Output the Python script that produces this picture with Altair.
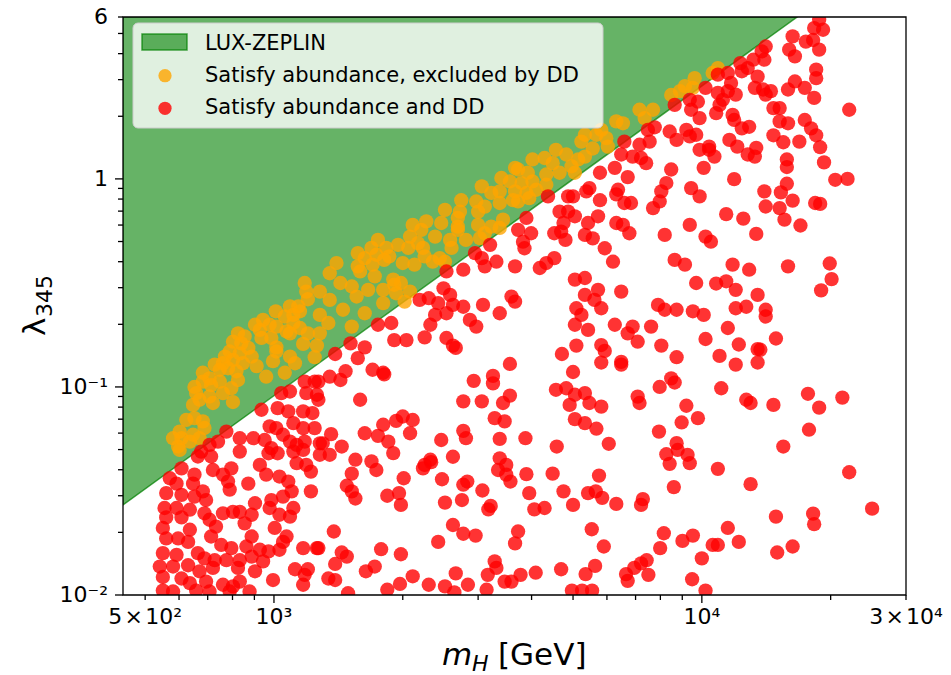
import altair as alt
import pandas as pd

# ------------------------------------------------------------------ data
# LUX-ZEPLIN excluded region: lower edge (straight line in log-log), filled up to the top of the plot
LZ_MASS = [443.8, 16700.0]
LZ_LAMBDA = [0.0271, 6.0]
LAMBDA_TOP = 6.0

# Satisfy abundance, excluded by DD  (m_H [GeV], lambda_345)
ORANGE_LOW = [
    (1180, 0.316), (1190, 0.287), (1280, 0.287), (1200, 0.264), (1090, 0.244), (1140, 0.244), (1010, 0.231), (1150, 0.231), (1060, 0.218), (1110, 0.222),
    (1280, 0.222), (943, 0.210), (903, 0.199), (977, 0.199), (1110, 0.203), (1013, 0.195), (1070, 0.185), (1150, 0.192), (1200, 0.181), (927, 0.188),
    (1280, 0.181), (824, 0.181), (854, 0.175), (935, 0.172), (986, 0.172), (1090, 0.181), (802, 0.165), (839, 0.162), (1170, 0.161), (1260, 0.158),
    (1013, 0.155), (871, 0.154), (788, 0.148), (1013, 0.148), (832, 0.145), (768, 0.140), (887, 0.140), (1090, 0.140), (1245, 0.139), (802, 0.135),
    (995, 0.133), (1120, 0.130), (760, 0.130), (846, 0.130), (727, 0.128), (911, 0.126), (781, 0.123), (747, 0.121), (817, 0.119), (1060, 0.117),
    (682, 0.117), (959, 0.112), (707, 0.110), (824, 0.108), (682, 0.106), (747, 0.106), (713, 0.102), (652, 0.100), (795, 0.0986), (658, 0.0934),
    (760, 0.0934), (707, 0.090), (647, 0.082), (670, 0.0868), (720, 0.0837), (802, 0.0846), (652, 0.0708), (624, 0.0695), (682, 0.0683), (688, 0.0635),
    (602, 0.061), (608, 0.0567), (581, 0.0567), (647, 0.0589), (597, 0.0517), (636, 0.0546), (670, 0.0567), (602, 0.0498),
]
ORANGE_MID = [
    (3660, 1.13), (3400, 1.01), (3560, 0.972), (3060, 0.920), (3220, 0.856), (3370, 0.871), (3620, 0.790), (2740, 0.790), (2970, 0.779), (3370, 0.766),
    (3110, 0.736), (2510, 0.710), (2720, 0.696), (3000, 0.696), (2460, 0.614), (2690, 0.650), (2690, 0.590), (3000, 0.601), (3220, 0.590), (3430, 0.637),
    (3370, 0.581), (2270, 0.625), (2110, 0.601), (2210, 0.569), (2080, 0.528), (2380, 0.528), (2690, 0.569), (2810, 0.509), (3110, 0.548), (3030, 0.519),
    (2580, 0.509), (1750, 0.509), (1950, 0.482), (2170, 0.491), (1690, 0.466), (1830, 0.466), (2060, 0.466), (2230, 0.466), (2600, 0.466), (1570, 0.440),
    (1735, 0.432), (1860, 0.424), (2250, 0.424), (2440, 0.416), (1630, 0.416), (1810, 0.408), (2000, 0.394), (2130, 0.387), (2350, 0.400), (2510, 0.400),
    (1400, 0.394), (1570, 0.380), (1700, 0.387), (1350, 0.352), (1590, 0.359), (1720, 0.340), (1900, 0.328), (1430, 0.316), (1520, 0.304), (1660, 0.293),
    (1800, 0.293), (1910, 0.310), (1980, 0.316), (1350, 0.262), (1560, 0.272), (1930, 0.282), (2080, 0.287), (1800, 0.253), (2020, 0.257), (1450, 0.235),
    (1630, 0.226), (1340, 0.203), (1520, 0.195),
]
ORANGE_HIGH = [
    (9620, 3.05), (9130, 2.79), (8480, 2.53), (8890, 2.64), (9530, 2.74), (10600, 3.23), (7150, 2.15), (7690, 2.15), (7350, 1.96), (6310, 1.89),
    (6540, 1.85), (5820, 1.72), (5330, 1.63), (5670, 1.63), (5980, 1.57), (5230, 1.51), (5560, 1.40), (6030, 1.43), (4560, 1.38), (4820, 1.31),
    (5140, 1.24), (5330, 1.28), (4020, 1.24), (4290, 1.26), (4480, 1.19), (4960, 1.15), (3720, 1.11), (3920, 1.07), (4330, 1.05), (4650, 1.07),
    (5050, 1.07), (3790, 0.955), (4020, 0.972), (4330, 0.937), (3660, 0.871), (3890, 0.856), (4100, 0.887), (3720, 0.779), (3950, 0.808), (10900, 3.41),
]

# Satisfy abundance and DD  (m_H [GeV], lambda_345)
RED_LOW = [
    (1040, 0.0934), (1090, 0.0951), (1180, 0.106), (1245, 0.106), (1190, 0.0934), (1260, 0.0917), (935, 0.0777), (1020, 0.0791), (1080, 0.0763), (1170, 0.0763),
    (1230, 0.0749), (1110, 0.0670), (977, 0.0646), (1013, 0.0634), (1170, 0.0634), (1245, 0.0634), (774, 0.0610), (832, 0.0567), (895, 0.0567), (951, 0.0556),
    (1050, 0.0589), (1090, 0.0546), (1180, 0.0546), (1280, 0.0536), (740, 0.0546), (707, 0.0527), (676, 0.0489), (986, 0.0508), (1130, 0.0527), (832, 0.0489),
    (971, 0.0480), (1020, 0.0480), (1110, 0.0489), (1170, 0.0498), (664, 0.0463), (713, 0.0463), (1280, 0.0472), (1130, 0.0430), (1190, 0.0422), (927, 0.0422),
    (959, 0.0379), (1220, 0.0392), (608, 0.0406), (652, 0.0379), (720, 0.0399), (795, 0.0406), (760, 0.0379), (1030, 0.0371), (1080, 0.0351), (571, 0.0364),
    (592, 0.0343), (647, 0.0343), (781, 0.0351), (788, 0.0321), (871, 0.0343), (682, 0.0315), (1100, 0.0315), (1220, 0.0315), (560, 0.0309), (608, 0.0303),
    (652, 0.0297), (694, 0.0286), (986, 0.0286), (1050, 0.0297), (903, 0.0276), (977, 0.0262), (1110, 0.0262), (555, 0.0262), (592, 0.0262), (636, 0.0257),
    (560, 0.0236), (608, 0.0236), (688, 0.0247), (760, 0.0247), (802, 0.0251), (832, 0.0251), (887, 0.0243), (1030, 0.0243), (1090, 0.0238), (707, 0.0230),
    (854, 0.0221), (732, 0.0213), (1004, 0.0210), (550, 0.0210), (636, 0.0206), (560, 0.0187), (597, 0.0187), (630, 0.0180), (713, 0.0191), (887, 0.0191),
    (1070, 0.0191), (1050, 0.0180), (753, 0.0174), (795, 0.0168), (862, 0.0171), (927, 0.0165), (971, 0.0162), (1030, 0.0165), (1170, 0.0168), (1260, 0.0168),
    (550, 0.0159), (592, 0.0156), (664, 0.0159), (688, 0.0150), (727, 0.0147), (774, 0.0147), (832, 0.0147), (887, 0.0153), (943, 0.0145), (541, 0.0137),
    (581, 0.0137), (630, 0.0139), (670, 0.0130), (720, 0.0135), (824, 0.0135), (903, 0.0130), (1120, 0.0133), (1180, 0.0125), (1200, 0.0133), (550, 0.0122),
    (608, 0.0120), (636, 0.0114), (694, 0.0116), (760, 0.0112), (802, 0.0110), (832, 0.0116), (995, 0.0118), (1170, 0.0112), (550, 0.0105), (581, 0.0104),
    (658, 0.0105), (707, 0.0104), (877, 0.0104), (788, 0.0104),
]
RED_MID = [
    (3200, 0.482), (2950, 0.440), (3060, 0.416), (3310, 0.400), (3110, 0.380), (3660, 0.380), (3720, 0.569), (2530, 0.359), (2770, 0.366), (2490, 0.298),
    (2580, 0.277), (2190, 0.262), (2300, 0.267), (2420, 0.253), (2620, 0.248), (2770, 0.243), (3080, 0.248), (3590, 0.272), (3660, 0.257), (2380, 0.222),
    (2530, 0.226), (2870, 0.210), (3370, 0.226), (1750, 0.199), (1880, 0.203), (2320, 0.199), (2970, 0.195), (1910, 0.168), (2040, 0.168), (2250, 0.173),
    (2530, 0.172), (2620, 0.158), (2660, 0.154), (1510, 0.162), (1630, 0.155), (1390, 0.144), (1570, 0.1375), (3560, 0.129), (1700, 0.121), (1800, 0.117),
    (1810, 0.115), (1470, 0.119), (1350, 0.112), (1430, 0.108), (1270, 0.106), (2930, 0.107), (3250, 0.113), (3250, 0.104), (1590, 0.0868), (2770, 0.0853),
    (3060, 0.0853), (3430, 0.0837), (3560, 0.0909), (1270, 0.0868), (1930, 0.0687), (2000, 0.0721), (2110, 0.0694), (1800, 0.0658), (3280, 0.0708), (3460, 0.0683),
    (1630, 0.0599), (1750, 0.0582), (2080, 0.0599), (2770, 0.0615), (2810, 0.0567), (1360, 0.0593), (3370, 0.0563), (1850, 0.0546), (1900, 0.0481), (1440, 0.0517),
    (1300, 0.0536), (2460, 0.0556), (1350, 0.0472), (1550, 0.0447), (1690, 0.0439), (2320, 0.0447), (2620, 0.0462), (3370, 0.0454), (2250, 0.0422), (1735, 0.0399),
    (1520, 0.0383), (1480, 0.0335), (1520, 0.0315), (1550, 0.0291), (2010, 0.0364), (2230, 0.0406), (2330, 0.0435), (2470, 0.0360), (2770, 0.0339), (2830, 0.0351),
    (3070, 0.0318), (1840, 0.0300), (1960, 0.0309), (1980, 0.0271), (2510, 0.0278), (2750, 0.0286), (3170, 0.0258), (3210, 0.0268), (3490, 0.0422), (3340, 0.0399),
    (3490, 0.0379), (3570, 0.0351), (1380, 0.0202), (1270, 0.0168), (1440, 0.0160), (1480, 0.0153), (1390, 0.0141), (1780, 0.0166), (1980, 0.0157), (1640, 0.0130),
    (1720, 0.0137), (1340, 0.0120), (1390, 0.0118), (1490, 0.0102), (1840, 0.0106), (1970, 0.0113), (2110, 0.0123), (2300, 0.0112), (2510, 0.0110), (2640, 0.0103),
    (2840, 0.0112), (2620, 0.0217), (2770, 0.0197), (2960, 0.0193), (2420, 0.0180), (2660, 0.0127), (3160, 0.0125), (3280, 0.0145), (3310, 0.0135), (3140, 0.0106),
    (3460, 0.0116), (3590, 0.0116), (3660, 0.0177), (3720, 0.0202),
]
RED_HIGH = [
    (8640, 2.27), (9370, 2.40), (9790, 2.35), (10200, 2.74), (9440, 2.15), (9880, 1.96), (7480, 1.72), (7760, 1.77), (8410, 1.69), (9200, 1.72),
    (8730, 1.54), (9370, 1.60), (9700, 1.63), (7550, 1.51), (7150, 1.46), (6590, 1.51), (9880, 1.38), (10400, 1.38), (6480, 1.31), (6890, 1.28),
    (7210, 1.26), (7410, 1.19), (6260, 1.13), (8480, 1.11), (10100, 1.13), (5780, 1.07), (6710, 1.02), (8260, 0.955), (8040, 0.871), (9440, 0.903),
    (9880, 0.824), (5460, 0.903), (5370, 0.871), (6370, 0.887), (6310, 0.842), (4370, 0.824), (4870, 0.824), (5000, 0.824), (5780, 0.790), (6590, 0.766),
    (6830, 0.766), (7970, 0.779), (7690, 0.724), (4650, 0.696), (4870, 0.696), (5050, 0.661), (5720, 0.661), (3890, 0.649), (4750, 0.614), (5420, 0.614),
    (6310, 0.614), (6540, 0.601), (9370, 0.601), (3990, 0.548), (4520, 0.548), (4690, 0.558), (5330, 0.538), (5560, 0.518), (6770, 0.548), (8190, 0.538),
    (10200, 0.528), (3820, 0.499), (4800, 0.509), (3850, 0.464), (5930, 0.464), (10500, 0.499), (4520, 0.416), (4330, 0.394), (4180, 0.373), (6200, 0.400),
    (8640, 0.408), (9130, 0.387), (9700, 0.316), (5050, 0.328), (5330, 0.334), (5720, 0.293), (5330, 0.277), (6480, 0.287), (5610, 0.262), (5820, 0.239),
    (5090, 0.239), (5230, 0.222), (7900, 0.248), (8190, 0.235), (8730, 0.235), (9530, 0.231), (10100, 0.222), (6260, 0.199), (6890, 0.195), (7610, 0.195),
    (5050, 0.199), (5420, 0.188), (6710, 0.181), (7080, 0.165), (8040, 0.158), (10200, 0.170), (5820, 0.159), (5930, 0.149), (5090, 0.158), (4710, 0.144),
    (5820, 0.131), (6480, 0.132), (6480, 0.128), (8730, 0.139), (5000, 0.118), (4560, 0.0969), (4820, 0.0986), (5050, 0.0917), (5330, 0.0934), (4910, 0.0820),
    (5460, 0.0837), (5820, 0.0804), (7080, 0.0899), (7150, 0.0837), (8480, 0.110), (8640, 0.105), (7970, 0.100), (9200, 0.0812), (9790, 0.0708), (8970, 0.0675),
    (5050, 0.0700), (5330, 0.0670), (5670, 0.0630), (7940, 0.0610), (3870, 0.0567), (4580, 0.0517), (6060, 0.0533), (8730, 0.0537), (8260, 0.0475), (8780, 0.0498),
    (9260, 0.0472), (8410, 0.0427), (9370, 0.0430), (3890, 0.0381), (4480, 0.0383), (5750, 0.0375), (3950, 0.0309), (4750, 0.0315), (5420, 0.0309), (5650, 0.0315),
    (5850, 0.0293), (5000, 0.0271), (6310, 0.0274), (7280, 0.0289), (7210, 0.0271), (8600, 0.0330), (4060, 0.0258), (4290, 0.0262), (5530, 0.0207), (5900, 0.0171),
    (8150, 0.0198), (9010, 0.0182), (9530, 0.0193), (7990, 0.0168), (10000, 0.0150), (10600, 0.0174), (4690, 0.0133), (4090, 0.0128), (3770, 0.0125), (5350, 0.0126),
    (5630, 0.0138), (6710, 0.0117), (6950, 0.0135), (7210, 0.0142), (7430, 0.0147), (7500, 0.0125), (6650, 0.0126), (9490, 0.0119), (10200, 0.0105), (4970, 0.0105),
    (5250, 0.0105), (5540, 0.0105),
]
RED_VERY_HIGH = [
    (18800, 5.82), (19200, 5.21), (18300, 5.31), (16300, 4.84), (17500, 4.57), (18200, 4.65), (14100, 4.33), (13800, 4.10), (16000, 4.18), (16500, 3.88),
    (18800, 4.18), (14000, 3.74), (13200, 3.74), (12300, 3.60), (11500, 3.23), (12400, 3.29), (12800, 3.41), (10900, 3.17), (18500, 3.35), (18500, 3.05),
    (13500, 3.10), (16500, 2.94), (15900, 2.69), (17400, 2.74), (18300, 2.45), (13300, 2.74), (13900, 2.69), (14500, 2.64), (14100, 2.54), (12000, 2.54),
    (11500, 2.64), (10900, 2.59), (11200, 2.40), (11000, 2.27), (11700, 2.89), (10800, 2.07), (11800, 2.03), (14700, 2.19), (15200, 2.19), (22100, 2.15),
    (11900, 1.92), (12400, 1.75), (12900, 1.78), (15200, 1.89), (15900, 1.85), (17400, 1.92), (18000, 1.75), (18500, 1.62), (14700, 1.62), (15500, 1.50),
    (16900, 1.51), (11600, 1.54), (12100, 1.43), (13400, 1.41), (12800, 1.31), (13300, 1.28), (10400, 1.43), (10700, 1.28), (18900, 1.42), (15800, 1.24),
    (15800, 1.14), (19300, 1.20), (11900, 0.997), (20500, 0.990), (21900, 1.00), (15800, 0.948), (15300, 0.861), (14000, 0.871), (16300, 0.786), (14100, 0.737),
    (15200, 0.724), (18400, 0.766), (18900, 0.758), (15600, 0.637), (17000, 0.597), (11400, 0.677), (12500, 0.644), (13400, 0.544), (11800, 0.387), (12900, 0.366),
    (15900, 0.380), (19900, 0.392), (20100, 0.330), (10800, 0.314), (11400, 0.322), (12000, 0.293), (13500, 0.277), (19000, 0.291), (12700, 0.243), (12000, 0.239),
    (14100, 0.235), (14100, 0.218), (11500, 0.192), (12200, 0.160), (13500, 0.152), (13700, 0.151), (14900, 0.171), (11000, 0.141), (12000, 0.128), (13500, 0.131),
    (11100, 0.0986), (12700, 0.0868), (13000, 0.0837), (14700, 0.0820), (17700, 0.0927), (18800, 0.0795), (21300, 0.0889), (17800, 0.0623), (15500, 0.0517), (10900, 0.0404),
    (13000, 0.0341), (22100, 0.0389), (14900, 0.0238), (18200, 0.0246), (18300, 0.0219), (25000, 0.0260), (11500, 0.0210), (10900, 0.0174), (12200, 0.0180), (15000, 0.0160),
    (16300, 0.0171),
]

# axes decorations
X_DOMAIN = [443.8, 30000]
Y_DOMAIN = [0.01, 6.0]
X_TICKS_MAJOR = [1000, 10000]
X_TICKS_MINOR = [500, 600, 700, 800, 900, 2000, 3000, 4000, 5000, 6000, 7000, 8000, 9000, 20000, 30000]
Y_TICKS_MAJOR = [0.01, 0.1, 1.0]
Y_TICKS_MINOR = [0.02, 0.03, 0.04, 0.05, 0.06, 0.07, 0.08, 0.09,
                 0.2, 0.3, 0.4, 0.5, 0.6, 0.7, 0.8, 0.9, 2.0, 3.0, 4.0, 5.0, 6.0]
X_TICK_VALUES = [500, 1000, 10000, 30000]
X_TICK_TEXT = ["5\u200a×\u200a10²", "10³", "10⁴", "3\u200a×\u200a10⁴"]
Y_TICK_VALUES = [0.01, 0.1, 1.0, 6.0]
Y_TICK_TEXT = ["10⁻²", "10⁻¹", "1", "6"]
LEGEND_LABELS = ["LUX-ZEPLIN", "Satisfy abundance, excluded by DD", "Satisfy abundance and DD"]

GREEN = "#008000"
ORANGE = "#ffa500"
RED = "#ff0000"
FONT = "DejaVu Sans"
W, H = 783, 578

# ------------------------------------------------------------------ chart
xs = alt.Scale(type="log", domain=X_DOMAIN, nice=False)
ys = alt.Scale(type="log", domain=Y_DOMAIN, nice=False)


def XF(f):
    return alt.X(f"{f}:Q", scale=xs, axis=None)


def YF(f):
    return alt.Y(f"{f}:Q", scale=ys, axis=None)


lz_df = pd.DataFrame({"m": LZ_MASS, "lam": LZ_LAMBDA, "top": [LAMBDA_TOP] * len(LZ_MASS)})
orange_df = pd.DataFrame(ORANGE_LOW + ORANGE_MID + ORANGE_HIGH, columns=["m", "lam"])
red_df = pd.DataFrame(RED_LOW + RED_MID + RED_HIGH + RED_VERY_HIGH, columns=["m", "lam"])
one = pd.DataFrame({"k": [0]})

area = alt.Chart(lz_df).mark_area(
    fill=GREEN, fillOpacity=0.6, stroke=GREEN, strokeOpacity=0.7, strokeWidth=1.5, clip=True
).encode(x=XF("m"), y=YF("lam"), y2=alt.Y2("top:Q"))

pt_size = 205
orange_pts = alt.Chart(orange_df).mark_circle(
    color=ORANGE, opacity=0.8, size=pt_size, clip=True
).encode(x=XF("m"), y=YF("lam"))

red_pts = alt.Chart(red_df).mark_circle(
    color=RED, opacity=0.8, size=pt_size, clip=True
).encode(x=XF("m"), y=YF("lam"))

frame = alt.Chart(one).mark_rect(fillOpacity=0, stroke="black", strokeWidth=1.3).encode(
    x=alt.value(0), x2=alt.value(W), y=alt.value(0), y2=alt.value(H)
)

tick_w = 1.3
xt_major = alt.Chart(pd.DataFrame({"v": X_TICKS_MAJOR})).mark_rule(color="black", strokeWidth=tick_w).encode(
    x=XF("v"), y=alt.value(H), y2=alt.value(H + 8))
xt_minor = alt.Chart(pd.DataFrame({"v": X_TICKS_MINOR})).mark_rule(color="black", strokeWidth=tick_w).encode(
    x=XF("v"), y=alt.value(H), y2=alt.value(H + 5))
yt_major = alt.Chart(pd.DataFrame({"v": Y_TICKS_MAJOR})).mark_rule(color="black", strokeWidth=tick_w).encode(
    y=YF("v"), x=alt.value(-8), x2=alt.value(0))
yt_minor = alt.Chart(pd.DataFrame({"v": Y_TICKS_MINOR})).mark_rule(color="black", strokeWidth=tick_w).encode(
    y=YF("v"), x=alt.value(-5), x2=alt.value(0))

x_labels = alt.Chart(pd.DataFrame({"v": X_TICK_VALUES, "t": X_TICK_TEXT})).mark_text(
    font=FONT, fontSize=22, align="center", baseline="alphabetic", color="black"
).encode(x=XF("v"), y=alt.value(H + 29), text="t:N")

y_labels = alt.Chart(pd.DataFrame({"v": Y_TICK_VALUES, "t": Y_TICK_TEXT})).mark_text(
    font=FONT, fontSize=22, align="right", baseline="middle", color="black"
).encode(y=YF("v"), x=alt.value(-15), text="t:N")

# axis titles (with subscripts)
TITLE_FS = 31
SUB_FS = 22
TITLE_BASE = H + 70
xt_m = alt.Chart(one).mark_text(font=FONT, fontSize=TITLE_FS, fontStyle="italic", align="left",
                                baseline="alphabetic").encode(x=alt.value(319), y=alt.value(TITLE_BASE), text=alt.value("m"))
xt_h = alt.Chart(one).mark_text(font=FONT, fontSize=SUB_FS, fontStyle="italic", align="left",
                                baseline="alphabetic").encode(x=alt.value(349), y=alt.value(TITLE_BASE + 6), text=alt.value("H"))
xt_u = alt.Chart(one).mark_text(font=FONT, fontSize=TITLE_FS, align="left",
                                baseline="alphabetic").encode(x=alt.value(375), y=alt.value(TITLE_BASE), text=alt.value("[GeV]"))

yt_l = alt.Chart(one).mark_text(font=FONT, fontSize=TITLE_FS, angle=270, align="left",
                                baseline="alphabetic").encode(x=alt.value(-78), y=alt.value(319), text=alt.value("λ"))
yt_s = alt.Chart(one).mark_text(font=FONT, fontSize=SUB_FS, angle=270, align="left",
                                baseline="alphabetic").encode(x=alt.value(-71), y=alt.value(300), text=alt.value("345"))

# legend
leg_box = alt.Chart(one).mark_rect(fill="white", fillOpacity=0.8, stroke="#cccccc", strokeWidth=1,
                                   cornerRadius=5).encode(
    x=alt.value(10), x2=alt.value(480), y=alt.value(6), y2=alt.value(111))
leg_patch = alt.Chart(one).mark_rect(fill=GREEN, fillOpacity=0.6, stroke=GREEN, strokeOpacity=0.7,
                                     strokeWidth=1.5).encode(
    x=alt.value(19), x2=alt.value(64), y=alt.value(17), y2=alt.value(33))
leg_or = alt.Chart(one).mark_circle(color=ORANGE, opacity=0.8, size=175).encode(
    x=alt.value(42), y=alt.value(58.7))
leg_rd = alt.Chart(one).mark_circle(color=RED, opacity=0.8, size=175).encode(
    x=alt.value(42), y=alt.value(91.3))
leg_texts = [
    alt.Chart(one).mark_text(font=FONT, fontSize=21, align="left", baseline="alphabetic", color="black").encode(
        x=alt.value(82), y=alt.value(yy), text=alt.value(lbl))
    for lbl, yy in zip(LEGEND_LABELS, [33, 64.7, 97])
]

chart = alt.layer(
    area, orange_pts, red_pts, frame,
    xt_major, xt_minor, yt_major, yt_minor, x_labels, y_labels,
    xt_m, xt_h, xt_u, yt_l, yt_s,
    leg_box, leg_patch, leg_or, leg_rd, *leg_texts,
).properties(
    width=W, height=H,
    autosize=alt.AutoSizeParams(type="none"),
    padding={"left": 115, "top": 9, "right": 37, "bottom": 80},
).configure_view(stroke=None)

chart.save("out.html", embed_options={"renderer": "svg", "actions": False})
